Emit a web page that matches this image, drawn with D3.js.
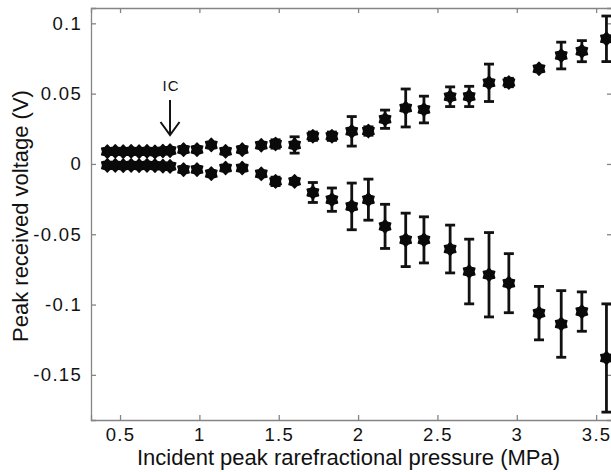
<!DOCTYPE html>
<html>
<head>
<meta charset="utf-8">
<script src="https://cdn.jsdelivr.net/npm/d3@7/dist/d3.min.js"></script>
<style>
  html, body { margin: 0; padding: 0; background: #fff; }
  svg { display: block; }
</style>
</head>
<body>
<svg id="chart" width="611" height="472"></svg>
<script>
// ---- data ----
const pressure = [0.42, 0.47, 0.52, 0.57, 0.62, 0.67, 0.72, 0.77, 0.815,
  0.90, 0.985, 1.075, 1.165, 1.27, 1.39, 1.48, 1.60, 1.715, 1.835, 1.96, 2.065,
  2.17, 2.30, 2.415, 2.58, 2.70, 2.825, 2.95, 3.14, 3.28, 3.41, 3.565];

const upperV = [0.0088, 0.009, 0.0088, 0.009, 0.0088, 0.009, 0.0086, 0.0092, 0.0095,
  0.0102, 0.0102, 0.0135, 0.009, 0.0102, 0.0133, 0.0142, 0.0135, 0.0197, 0.0197, 0.0232, 0.0234,
  0.0318, 0.0398, 0.0387, 0.0478, 0.048, 0.0577, 0.0579, 0.0677, 0.0771, 0.0802, 0.089];
const upperErr = [0.001, 0.001, 0.001, 0.001, 0.001, 0.001, 0.001, 0.001, 0.001,
  0.001, 0.001, 0.0015, 0.001, 0.001, 0.0015, 0.003, 0.0058, 0.003, 0.003, 0.0105, 0.003,
  0.0065, 0.0135, 0.0095, 0.007, 0.0072, 0.0133, 0.003, 0.0015, 0.0095, 0.0075, 0.0162];

const lowerV = [-0.001, -0.001, -0.0012, -0.001, -0.0012, -0.001, -0.0012, -0.0015, -0.0017,
  -0.004, -0.004, -0.0069, -0.0029, -0.0029, -0.007, -0.0124, -0.0124, -0.0203, -0.0254, -0.0302, -0.0254,
  -0.0444, -0.054, -0.054, -0.0605, -0.0765, -0.0788, -0.0848, -0.1061, -0.1138, -0.105, -0.138];
const lowerErr = [0.001, 0.001, 0.001, 0.001, 0.001, 0.001, 0.001, 0.001, 0.001,
  0.001, 0.001, 0.001, 0.001, 0.001, 0.001, 0.003, 0.0012, 0.0071, 0.0083, 0.0166, 0.0146,
  0.0157, 0.019, 0.0164, 0.017, 0.023, 0.030, 0.021, 0.019, 0.0237, 0.014, 0.0385];

const xTicks = [0.5, 1, 1.5, 2, 2.5, 3, 3.5];
const xTickLabels = ["0.5", "1", "1.5", "2", "2.5", "3", "3.5"];
const yTicks = [0.1, 0.05, 0, -0.05, -0.1, -0.15];
const yTickLabels = ["0.1", "0.05", "0", "-0.05", "-0.1", "-0.15"];

const xDomain = [0.317, 3.6];
const yDomain = [-0.1821, 0.1109];

const xLabel = "Incident peak rarefractional pressure (MPa)";
const yLabel = "Peak received voltage (V)";
const annotText = "IC";
const annotX = 0.815;

// ---- layout ----
const svg = d3.select("#chart");
const L = 91, R = 612, T = 8, B = 420;

const x = d3.scaleLinear().domain(xDomain).range([L, R]);
const y = d3.scaleLinear().domain(yDomain).range([B, T]);

const axisColor = "#858585";
const font = "'Liberation Sans', Arial, Helvetica, sans-serif";

function styleAxis(g) {
  g.select(".domain").attr("stroke", axisColor).attr("stroke-width", 1.3);
  g.selectAll(".tick line").attr("stroke", axisColor).attr("stroke-width", 1.3);
  g.selectAll(".tick text").attr("fill", "#111").attr("font-family", font)
    .attr("font-size", 18.5).attr("letter-spacing", "1.3px");
}

// bottom axis
svg.append("g").attr("transform", `translate(0,${B})`)
  .call(d3.axisBottom(x).tickValues(xTicks).tickSize(-5).tickPadding(8)
    .tickFormat((d, i) => xTickLabels[i]))
  .call(styleAxis);
// top axis
svg.append("g").attr("transform", `translate(0,${T})`)
  .call(d3.axisTop(x).tickValues(xTicks).tickSize(-5).tickFormat(""))
  .call(styleAxis);
// left axis
svg.append("g").attr("transform", `translate(${L},0)`)
  .call(d3.axisLeft(y).tickValues(yTicks).tickSize(-5).tickPadding(9)
    .tickFormat((d, i) => yTickLabels[i]))
  .call(styleAxis);
// right axis
svg.append("g").attr("transform", `translate(${R},0)`)
  .call(d3.axisRight(y).tickValues(yTicks).tickSize(-5).tickFormat(""))
  .call(styleAxis);

// rounded hexagram marker shape
function hexagram(Ro) {
  const ri = Ro * 0.72;
  const pts = d3.range(12).map(k => {
    const a = -Math.PI / 2 + k * Math.PI / 6;
    const rr = k % 2 === 0 ? Ro : ri;
    return [rr * Math.cos(a), rr * Math.sin(a)];
  });
  return "M" + pts.map(p => p.join(",")).join("L") + "Z";
}
const markerPath = hexagram(6.6);

function drawSeries(vals, errs) {
  const data = pressure.map((p, i) => ({ p, v: vals[i], e: errs[i] }));
  const g = svg.append("g");
  const eb = g.selectAll(".eb").data(data).enter().append("g")
    .attr("stroke", "#111").attr("stroke-width", 2.8).attr("fill", "none");
  eb.append("line")
    .attr("x1", d => x(d.p)).attr("x2", d => x(d.p))
    .attr("y1", d => y(d.v + d.e)).attr("y2", d => y(d.v - d.e));
  eb.append("line")
    .attr("x1", d => x(d.p) - 5).attr("x2", d => x(d.p) + 5)
    .attr("y1", d => y(d.v + d.e)).attr("y2", d => y(d.v + d.e));
  eb.append("line")
    .attr("x1", d => x(d.p) - 5).attr("x2", d => x(d.p) + 5)
    .attr("y1", d => y(d.v - d.e)).attr("y2", d => y(d.v - d.e));
  g.selectAll(".mk").data(data).enter().append("path")
    .attr("d", markerPath)
    .attr("transform", d => `translate(${x(d.p)},${y(d.v)})`)
    .attr("fill", "#0a0a0a").attr("stroke", "#0a0a0a").attr("stroke-width", 1.4)
    .attr("stroke-linejoin", "round");
}
drawSeries(upperV, upperErr);
drawSeries(lowerV, lowerErr);

// IC annotation
const ax = x(annotX);
svg.append("text").attr("x", ax + 1).attr("y", 91)
  .attr("text-anchor", "middle").attr("font-family", font).attr("font-size", 15)
  .attr("letter-spacing", "1px").attr("fill", "#111").text(annotText);
const arr = svg.append("g").attr("stroke", "#111").attr("stroke-width", 2).attr("fill", "none");
arr.append("line").attr("x1", ax).attr("x2", ax).attr("y1", 100).attr("y2", 135);
arr.append("polyline").attr("points", `${ax - 9.5},122 ${ax},135 ${ax + 9.5},122`);

// axis labels
svg.append("text").attr("x", (L + R) / 2 - 3).attr("y", 465)
  .attr("text-anchor", "middle").attr("font-family", font).attr("font-size", 22)
  .attr("fill", "#111").text(xLabel);
svg.append("text").attr("transform", `translate(28,${(T + B) / 2 + 2}) rotate(-90)`)
  .attr("text-anchor", "middle").attr("font-family", font).attr("font-size", 22)
  .attr("fill", "#111").text(yLabel);
</script>
</body>
</html>
